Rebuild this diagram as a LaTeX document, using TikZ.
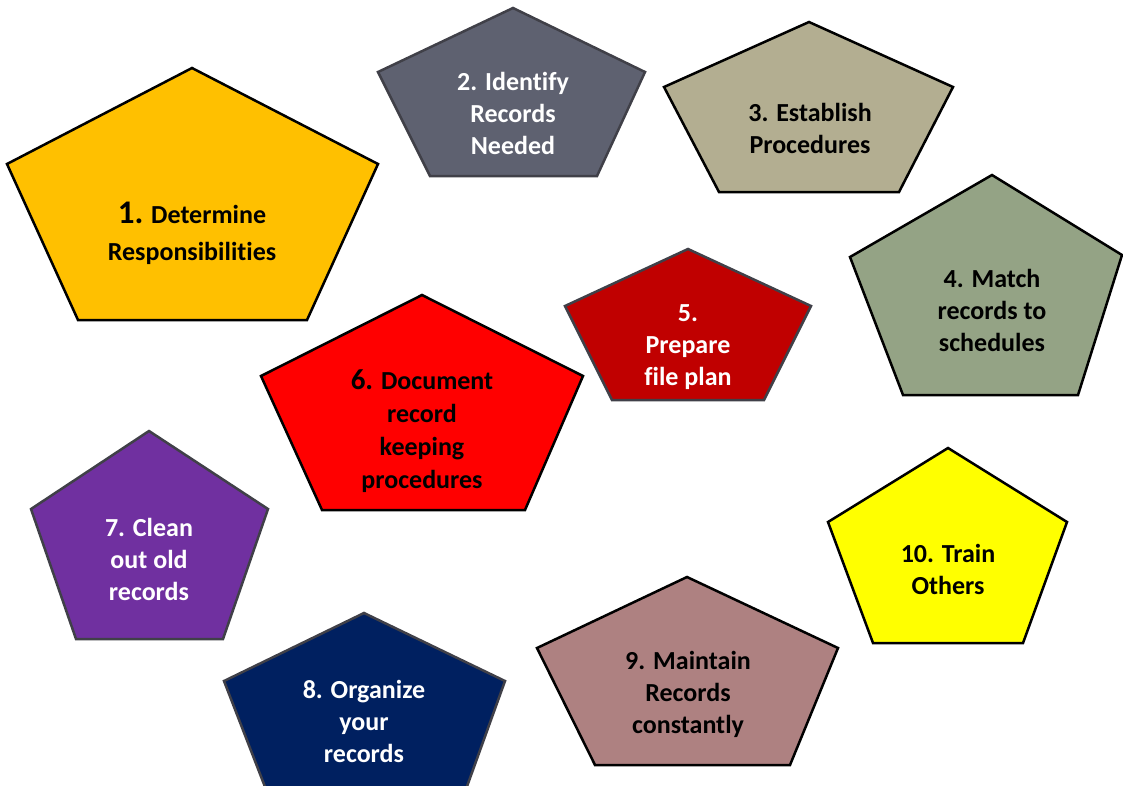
\documentclass[tikz,border=0pt]{standalone}
\usepackage{fontspec}
\setmainfont{Carlito}[Ligatures={NoCommon}]
\definecolor{cOne}{HTML}{FFC000}
\definecolor{cTwo}{HTML}{5E6170}
\definecolor{cThree}{HTML}{B3AE91}
\definecolor{cFour}{HTML}{94A385}
\definecolor{cFive}{HTML}{C00000}
\definecolor{cSix}{HTML}{FF0000}
\definecolor{cSeven}{HTML}{7030A0}
\definecolor{cEight}{HTML}{002060}
\definecolor{cNine}{HTML}{AE8181}
\definecolor{cTen}{HTML}{FFFF00}
\definecolor{grayline}{HTML}{404048}
\tikzset{
  blackpent/.style={draw=black,line width=2.5pt,line join=miter},
  graypent/.style={draw=grayline,line width=2.5pt,line join=miter},
  lbl/.style={anchor=base,align=center,inner sep=0pt,font=\bfseries\fontsize{26}{32}\selectfont},
}
\begin{document}
\begin{tikzpicture}[x=1pt,y=-1pt]
\useasboundingbox (0,0) rectangle (1123,785);
\clip (0,0) rectangle (1123,785);
% 1
\draw[blackpent,fill=cOne] (192,68) -- (378,164) -- (307,320) -- (78,320) -- (7,164) -- cycle;
\node[lbl,font=\bfseries\fontsize{26}{37}\selectfont] (t1) at (192,260) {{\fontsize{33}{37}\selectfont 1.} Determine\\Responsibilities};
% 2
\draw[graypent,fill=cTwo] (513,8) -- (645,72) -- (597,176) -- (430,176) -- (378,72) -- cycle;
\node[lbl,text=white] (t2) at (513,154) {2. Identify\\Records\\Needed};
% 3
\draw[blackpent,fill=cThree] (809,22) -- (953,87) -- (899,192) -- (719,192) -- (664,87) -- cycle;
\node[lbl] (t3) at (810,153) {3. Establish\\Procedures};
% 4
\draw[blackpent,fill=cFour] (992,175) -- (1122,255) -- (1078,395) -- (903,395) -- (850,257) -- cycle;
\node[lbl] (t4) at (992,351) {4. Match\\records to\\schedules};
% 5
\draw[graypent,fill=cFive] (688,249) -- (811,306) -- (764,400) -- (612,400) -- (565,306) -- cycle;
\node[lbl,text=white] (t5) at (688,385) {5.\\Prepare\\file plan};
% 6
\draw[blackpent,fill=cSix] (422,295) -- (583,376) -- (525,510) -- (322,510) -- (261,376) -- cycle;
\node[lbl,font=\bfseries\fontsize{26}{33}\selectfont] (t6) at (422,488) {{\fontsize{29}{33}\selectfont 6.} Document\\record\\keeping\\procedures};
% 7
\draw[graypent,fill=cSeven] (149,431) -- (268,509) -- (223,639) -- (76,639) -- (31,509) -- cycle;
\node[lbl,text=white] (t7) at (149,600) {7. Clean\\out old\\records};
% 8
\draw[graypent,fill=cEight] (364,613) -- (505,681) -- (465,792) -- (267,792) -- (224,681) -- cycle;
\node[lbl,text=white] (t8) at (364,762) {8. Organize\\your\\records};
% 9
\draw[blackpent,fill=cNine] (687,577) -- (838,648) -- (790,765) -- (595,765) -- (537,648) -- cycle;
\node[lbl] (t9) at (688,733) {9. Maintain\\Records\\constantly};
% 10
\draw[blackpent,fill=cTen] (948,448) -- (1067,522) -- (1023,643) -- (873,643) -- (828,522) -- cycle;
\node[lbl] (t10) at (948,594) {10. Train\\Others};
\end{tikzpicture}
\end{document}
